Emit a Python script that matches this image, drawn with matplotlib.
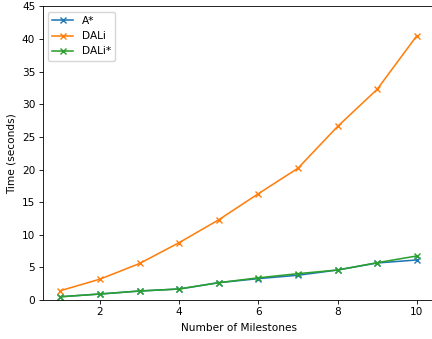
import matplotlib
matplotlib.use('Agg')
import matplotlib.pyplot as plt

# Values
milestones = [1, 2, 3, 4, 5, 6, 7, 8, 9, 10]
astar = [0.5, 0.92, 1.38, 1.69, 2.66, 3.28, 3.8, 4.6, 5.68, 6.14]
dali = [1.43, 3.2, 5.6, 8.8, 12.3, 16.3, 20.2, 26.6, 32.3, 40.5]
dali_star = [0.5, 0.92, 1.38, 1.69, 2.66, 3.4, 4.04, 4.6, 5.72, 6.75]

s = 0.76
plt.rcParams['font.size'] = 10 * s

fig = plt.figure(figsize=(4.32, 3.39), dpi=100)
# right edge of the axes runs slightly past the image, as in the reference
ax = fig.add_axes([0.0986, 0.115, 0.9074, 0.866])

ax.plot(milestones, astar, marker='x', label='A*', lw=1.5 * s, ms=6 * s)
ax.plot(milestones, dali, marker='x', label='DALi', lw=1.5 * s, ms=6 * s)
ax.plot(milestones, dali_star, marker='x', label='DALi*', lw=1.5 * s, ms=6 * s)

ax.set_ylim(0, 45)
ax.set_xlabel('Number of Milestones')
ax.set_ylabel('Time (seconds)')
ax.tick_params(width=0.8 * s, length=3.5 * s, pad=3.5 * s)
for sp in ax.spines.values():
    sp.set_linewidth(0.8 * s)
ax.legend(loc='upper left')

fig.savefig('out.png', dpi=100)
